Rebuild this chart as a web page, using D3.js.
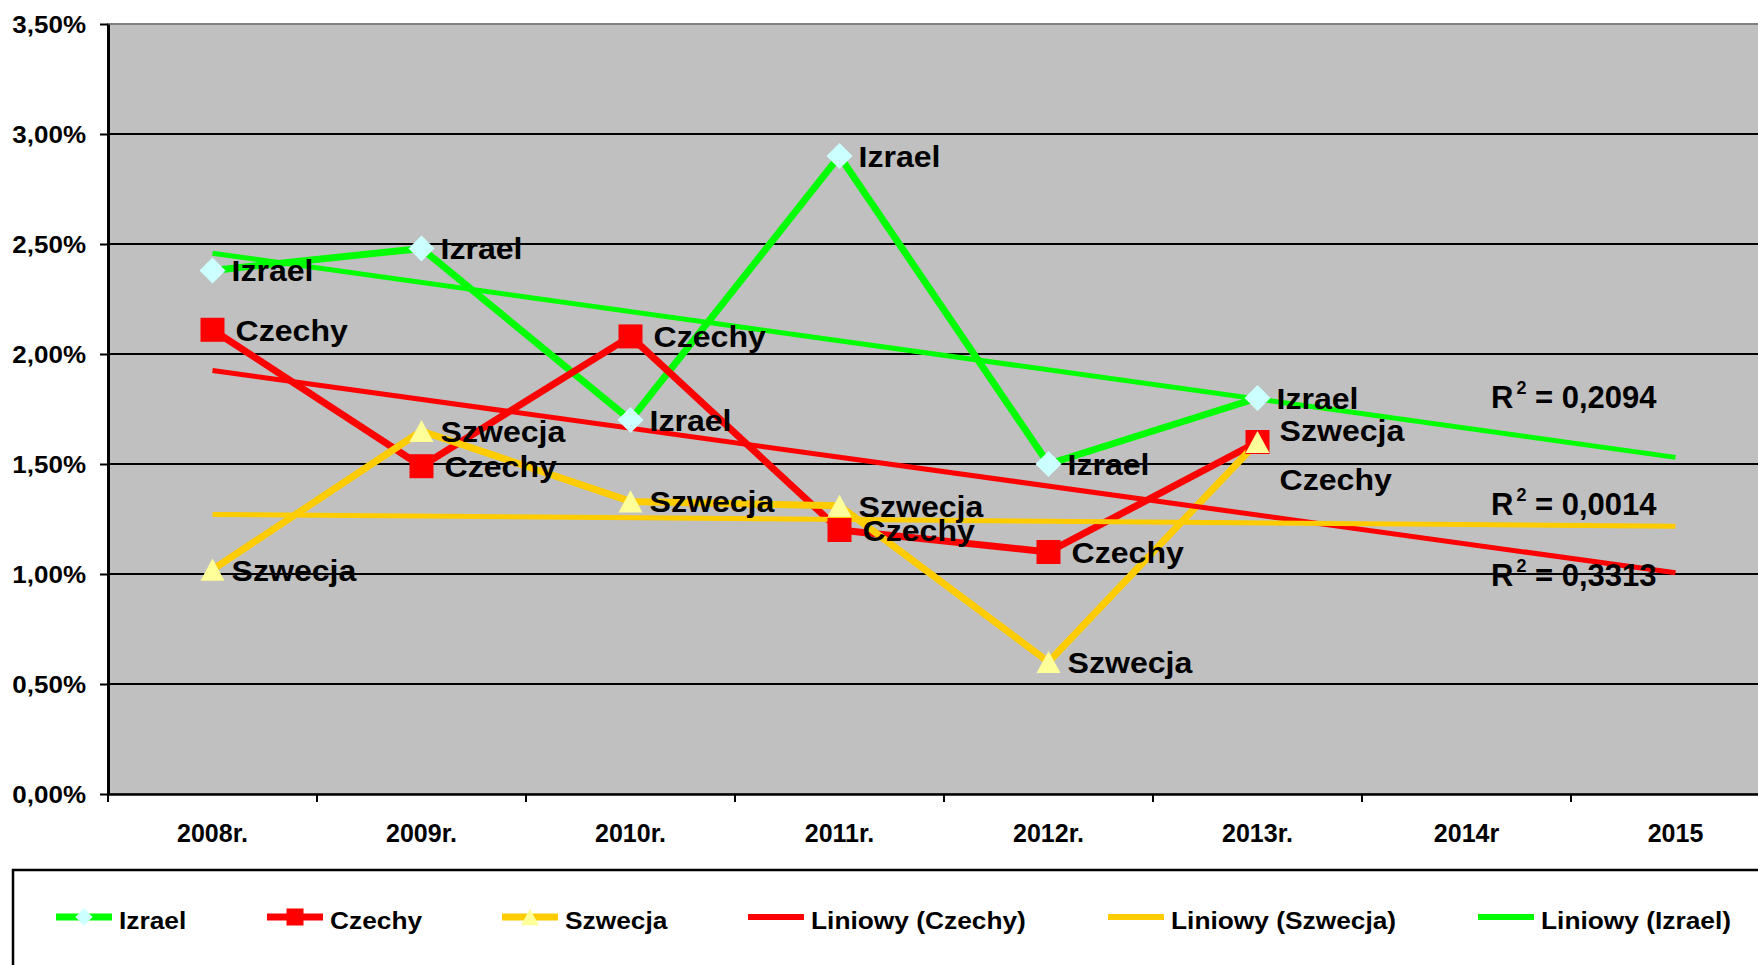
<!DOCTYPE html>
<html>
<head>
<meta charset="utf-8">
<script src="https://cdn.jsdelivr.net/npm/d3@7"></script>
<style>
  html, body { margin: 0; padding: 0; background: #ffffff; }
  svg { display: block; }
  text { font-family: "Liberation Sans", Arial, sans-serif; font-weight: bold; fill: #000; }
</style>
</head>
<body>
<svg id="chart" width="1758" height="965"></svg>
<script>
// ---- data ----
const categories = ["2008r.", "2009r.", "2010r.", "2011r.", "2012r.", "2013r.", "2014r", "2015"];
const izrael  = [0.0238, 0.0248, 0.0170, 0.0290, 0.0150, 0.0180];
const czechy  = [0.0211, 0.0149, 0.0208, 0.0120, 0.0110, 0.0160];
const szwecja = [0.0102, 0.0165, 0.0133, 0.0131, 0.0060, 0.0160];
const yTicks  = [0, 0.005, 0.01, 0.015, 0.02, 0.025, 0.03, 0.035];
const seriesNames = ["Izrael", "Czechy", "Szwecja"];
const trendNames  = ["Liniowy (Czechy)", "Liniowy (Szwecja)", "Liniowy (Izrael)"];

// ---- layout ----
const W = 1758, H = 965;
const plot = { left: 108, top: 24, bottom: 794, band: 209 };
const plotRight = plot.left + plot.band * categories.length;

const pl = d3.formatLocale({ decimal: ",", thousands: " ", grouping: [3], currency: ["", " zł"] });
const fmtPct = pl.format(".2%");
const fmtR2 = pl.format(".4f");

const svg = d3.select("#chart");
const x = d3.scaleBand().domain(categories).range([plot.left, plotRight]).padding(0);
const y = d3.scaleLinear().domain([0, 0.035]).range([plot.bottom, plot.top]);
const cx = i => x(categories[i]) + x.bandwidth() / 2;

// series styling
const series = [
  { name: "Izrael",  values: izrael,  line: "#00FF00", fill: "#CCFFFF", marker: "diamond",  labelDx: 19 },
  { name: "Czechy",  values: czechy,  line: "#FF0000", fill: "#FF0000", marker: "square",   labelDx: 23 },
  { name: "Szwecja", values: szwecja, line: "#FFCC00", fill: "#FFFF99", marker: "triangle", labelDx: 19 }
];
// hand-placed labels (series, index) -> nudge
const labelNudge = { "Czechy-5": { dx: 22, dy: 37 }, "Szwecja-5": { dx: 22, dy: -12 } };
// trendline R² label anchors
const r2Pos = { "Izrael": 408, "Szwecja": 515, "Czechy": 586 };
const r2X = 1491;

// marker shapes
const triangleType = {
  draw(ctx, size) {
    const w = Math.sqrt(size) / 2, h = w * 0.92;
    ctx.moveTo(0, -h); ctx.lineTo(w, h); ctx.lineTo(-w, h); ctx.closePath();
  }
};
function markerPath(kind, big) {
  if (kind === "diamond") return d3.symbol(d3.symbolSquare, big ? 338 : 150)();
  if (kind === "square") return d3.symbol(d3.symbolSquare, big ? 576 : 289)();
  return d3.symbol(triangleType, big ? 576 : 320)();
}
const markerRot = kind => kind === "diamond" ? " rotate(45)" : "";

// ---- plot area ----
svg.append("rect").attr("width", W).attr("height", H).attr("fill", "#ffffff");
svg.append("rect")
  .attr("x", plot.left).attr("y", plot.top)
  .attr("width", plotRight - plot.left).attr("height", plot.bottom - plot.top)
  .attr("fill", "#C0C0C0").attr("stroke", "#808080").attr("stroke-width", 2);

// gridlines
svg.append("g").selectAll("line")
  .data(yTicks.filter(t => t > 0 && t < 0.035))
  .join("line")
  .attr("x1", plot.left).attr("x2", plotRight)
  .attr("y1", d => y(d)).attr("y2", d => y(d))
  .attr("stroke", "#000").attr("stroke-width", 2);

// y axis
const yAxis = svg.append("g").attr("transform", `translate(${plot.left},0)`)
  .call(d3.axisLeft(y).tickValues(yTicks).tickFormat(fmtPct).tickSize(8).tickSizeOuter(0).tickPadding(0));
yAxis.select(".domain").attr("stroke", "#000").attr("stroke-width", 3);
yAxis.selectAll(".tick line").attr("stroke", "#000").attr("stroke-width", 2);
yAxis.selectAll(".tick text")
  .attr("x", 0).attr("dy", null).attr("y", 0)
  .attr("transform", "translate(-22,8.5) scale(1.13,1)")
  .attr("text-anchor", "end")
  .style("font-size", "23px");

// x axis
const xAxis = svg.append("g").attr("transform", `translate(0,${plot.bottom})`)
  .call(d3.axisBottom(x).tickSize(0).tickSizeOuter(0).tickPadding(30));
xAxis.select(".domain").attr("stroke", "#000").attr("stroke-width", 2.5);
xAxis.selectAll(".tick text").style("font-size", "25px");
svg.append("g").selectAll("line")
  .data(categories)
  .join("line")
  .attr("x1", d => x(d)).attr("x2", d => x(d))
  .attr("y1", plot.bottom).attr("y2", plot.bottom + 8)
  .attr("stroke", "#000").attr("stroke-width", 2);

// ---- trendlines (least squares over the observed years) ----
function fit(vals) {
  const xs = vals.map((_, i) => i + 1);
  const mx = d3.mean(xs), my = d3.mean(vals);
  let sxy = 0, sxx = 0, syy = 0;
  vals.forEach((v, i) => { sxy += (xs[i] - mx) * (v - my); sxx += (xs[i] - mx) ** 2; syy += (v - my) ** 2; });
  const slope = sxy / sxx;
  return { slope, intercept: my - slope * mx, r2: (sxy * sxy) / (sxx * syy) };
}

const line = d3.line().x(d => cx(d[0])).y(d => y(d[1]));

// series lines
const gSeries = svg.append("g");
series.forEach(s => {
  gSeries.append("path")
    .datum(s.values.map((v, i) => [i, v]))
    .attr("d", line)
    .attr("fill", "none").attr("stroke", s.line).attr("stroke-width", 7)
    .attr("stroke-linejoin", "round");
});

// trend lines to the last category
const gTrend = svg.append("g");
series.forEach(s => {
  const f = fit(s.values);
  s.fit = f;
  const pts = [0, categories.length - 1].map(i => [i, f.intercept + f.slope * (i + 1)]);
  gTrend.append("path")
    .datum(pts)
    .attr("d", line)
    .attr("fill", "none").attr("stroke", s.line).attr("stroke-width", 5);
});

// markers
const gMarks = svg.append("g");
series.forEach(s => {
  gMarks.selectAll(null)
    .data(s.values)
    .join("path")
    .attr("d", markerPath(s.marker, true))
    .attr("transform", (d, i) => `translate(${cx(i)},${y(d)})${markerRot(s.marker)}`)
    .attr("fill", s.fill);
});

// data labels
const gLabels = svg.append("g");
series.forEach(s => {
  s.values.forEach((v, i) => {
    const nudge = labelNudge[`${s.name}-${i}`] || { dx: s.labelDx, dy: 0 };
    gLabels.append("text")
      .attr("transform", `translate(${cx(i) + nudge.dx},${y(v) + 11 + nudge.dy}) scale(1.07,1)`)
      .style("font-size", "30px")
      .text(s.name);
  });
});

// R² labels
series.forEach(s => {
  const t = svg.append("text")
    .attr("x", r2X).attr("y", r2Pos[s.name])
    .style("font-size", "31px");
  t.append("tspan").text("R");
  t.append("tspan").attr("dx", 3).attr("dy", -14).style("font-size", "18px").text("2");
  t.append("tspan").attr("dy", 14).text(" = " + fmtR2(s.fit.r2));
});

// ---- legend ----
svg.append("rect")
  .attr("x", 13).attr("y", 870).attr("width", W + 40).attr("height", 200)
  .attr("fill", "#fff").attr("stroke", "#000").attr("stroke-width", 2.5);

const legendItems = [
  { label: seriesNames[0], s: series[0], withMarker: true,  x0: 56 },
  { label: seriesNames[1], s: series[1], withMarker: true,  x0: 267 },
  { label: seriesNames[2], s: series[2], withMarker: true,  x0: 502 },
  { label: trendNames[0],  s: series[1], withMarker: false, x0: 748 },
  { label: trendNames[1],  s: series[2], withMarker: false, x0: 1108 },
  { label: trendNames[2],  s: series[0], withMarker: false, x0: 1478 }
];
const ly = 917;
const gLeg = svg.append("g");
legendItems.forEach(it => {
  gLeg.append("line")
    .attr("x1", it.x0).attr("x2", it.x0 + 56)
    .attr("y1", ly).attr("y2", ly)
    .attr("stroke", it.s.line).attr("stroke-width", it.withMarker ? 7 : 6);
  if (it.withMarker) {
    gLeg.append("path")
      .attr("d", markerPath(it.s.marker, false))
      .attr("transform", `translate(${it.x0 + 28},${ly})${markerRot(it.s.marker)}`)
      .attr("fill", it.s.fill);
  }
  gLeg.append("text")
    .attr("transform", `translate(${it.x0 + 63},${ly + 12}) scale(1.12,1)`)
    .style("font-size", "23.5px")
    .text(it.label);
});
</script>
</body>
</html>
